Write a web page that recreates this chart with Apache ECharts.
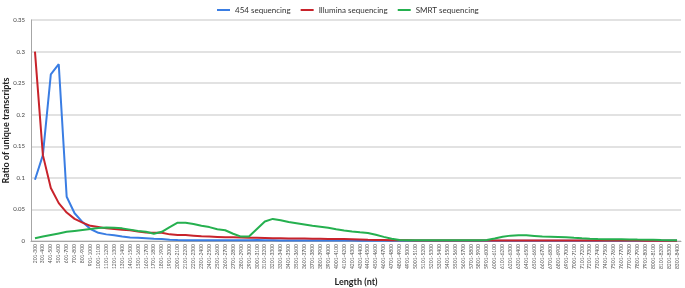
<!DOCTYPE html>
<html>
<head>
    <meta charset="utf-8">
    <title>ECharts</title>
    <script src="https://cdn.jsdelivr.net/npm/echarts@6/dist/echarts.min.js"></script>
    <style>
        html, body { margin: 0; padding: 0; background: #fff; }
    </style>
</head>
<body>
    <div id="main" style="width: 685px;height:288px;"></div>
    <script type="text/javascript">
        // length bins (x axis)
        var lengths = [
            '201-300','301-400','401-500','501-600','601-700','701-800','801-900','901-1000',
            '1001-1100','1101-1200','1201-1300','1301-1400','1401-1500','1501-1600','1601-1700','1701-1800','1801-1900','1901-2000',
            '2001-2100','2101-2200','2201-2300','2301-2400','2401-2500','2501-2600','2601-2700','2701-2800','2801-2900','2901-3000',
            '3001-3100','3101-3200','3201-3300','3301-3400','3401-3500','3501-3600','3601-3700','3701-3800','3801-3900','3901-4000',
            '4001-4100','4101-4200','4201-4300','4301-4400','4401-4500','4501-4600','4601-4700','4701-4800','4801-4900','4901-5000',
            '5001-5100','5101-5200','5201-5300','5301-5400','5401-5500','5501-5600','5601-5700','5701-5800','5801-5900','5901-6000',
            '6001-6100','6101-6200','6201-6300','6301-6400','6401-6500','6501-6600','6601-6700','6701-6800','6801-6900','6901-7000',
            '7001-7100','7101-7200','7201-7300','7301-7400','7401-7500','7501-7600','7601-7700','7701-7800','7801-7900','7901-8000',
            '8001-8100','8101-8200','8201-8300','8301-8400'
        ];

        var seq454 = [
            0.097,0.136,0.264,0.280,0.070,0.044,0.030,0.019,0.013,0.0105,
            0.009,0.007,0.0055,0.005,0.0043,0.0035,0.003,0.002,0.0015,0.0013,
            0.0012,0.0012,0.001,0.001,0.001,0.001,0.001,0.0012,0.0015,0.0012,
            0.001,0.0008,0.0008,0.0008,0.0008,0.0007,0.0007,0.0007,0.0006,0.0006,
            0.0006,0.0005,0.0005,0.0005,0.0005,0.0005,0.0004,0.0004,0.0004,0.0004,
            0.0004,0.0004,0.0004,0.0004,0.0004,0.0004,0.0004,0.0004,0.0004,0.0004,
            0.0004,0.0004,0.0004,0.0004,0.0004,0.0004,0.0003,0.0003,0.0003,0.0003,
            0.0003,0.0003,0.0003,0.0003,0.0003,0.0003,0.0003,0.0003,0.0003,0.0003,
            0.0003,0.0003
        ];

        var illumina = [
            0.300,0.136,0.084,0.060,0.045,0.035,0.029,0.024,0.022,0.020,
            0.019,0.018,0.017,0.015,0.0135,0.013,0.013,0.0105,0.0095,0.0095,
            0.0085,0.0075,0.007,0.0065,0.006,0.006,0.0055,0.005,0.005,0.0048,
            0.0045,0.0045,0.004,0.004,0.004,0.0035,0.0035,0.003,0.003,0.003,
            0.0028,0.0025,0.002,0.0017,0.0015,0.0013,0.001,0.001,0.0009,0.0008,
            0.0008,0.0008,0.0007,0.0007,0.0007,0.0007,0.0007,0.0007,0.0008,0.0008,
            0.0009,0.0009,0.0009,0.0009,0.0008,0.0008,0.0008,0.0007,0.0007,0.0007,
            0.0006,0.0006,0.0006,0.0006,0.0006,0.0006,0.0006,0.0005,0.0005,0.0005,
            0.0005,0.0005
        ];

        var smrt = [
            0.0045,0.007,0.0095,0.012,0.0145,0.016,0.0175,0.019,0.0205,0.0215,
            0.021,0.020,0.018,0.016,0.0145,0.0115,0.0145,0.022,0.029,0.029,
            0.027,0.024,0.022,0.0185,0.017,0.0115,0.007,0.007,0.019,0.031,
            0.035,0.033,0.030,0.028,0.026,0.024,0.0225,0.021,0.0185,0.0165,
            0.015,0.0137,0.0127,0.010,0.0065,0.0035,0.0015,0.0012,0.001,0.001,
            0.001,0.001,0.001,0.001,0.001,0.001,0.001,0.0016,0.004,0.0068,
            0.0085,0.009,0.009,0.008,0.007,0.0068,0.0065,0.006,0.005,0.0042,
            0.0035,0.003,0.0027,0.0027,0.0027,0.0025,0.0022,0.002,0.002,0.0016,
            0.0013,0.001
        ];

        var yTicks = [0, 0.05, 0.1, 0.15, 0.2, 0.25, 0.3, 0.35];

        var myChart = echarts.init(document.getElementById('main'));

        var font = 'Lato, "Open Sans", sans-serif';

        myChart.setOption({
            animation: false,
            textStyle: { fontFamily: font },
            color: ['#3a7de3', '#c8232b', '#25b04f'],
            legend: {
                top: 1,
                left: 212,
                itemWidth: 13,
                itemHeight: 2,
                itemGap: 10,
                icon: 'rect',
                textStyle: { fontSize: 8, color: '#333', fontFamily: font },
                data: ['454 sequencing', 'Illumina sequencing', 'SMRT sequencing']
            },
            grid: { left: 31, right: 4, top: 20, bottom: 47, outerBoundsMode: 'none' },
            xAxis: {
                type: 'category',
                data: lengths,
                boundaryGap: true,
                name: 'Length (nt)',
                nameLocation: 'middle',
                nameGap: 37,
                nameMoveOverlap: false,
                nameTextStyle: { fontSize: 9, fontWeight: 'bold', color: '#222' },
                axisLine: { lineStyle: { color: '#a6a6a6' } },
                axisTick: { interval: 0, length: 3, lineStyle: { color: '#a6a6a6' } },
                axisLabel: { interval: 0, rotate: 90, fontSize: 5, color: '#555', margin: 3 }
            },
            yAxis: {
                type: 'value',
                min: yTicks[0],
                max: yTicks[yTicks.length - 1],
                interval: 0.05,
                name: 'Ratio of unique transcripts',
                nameLocation: 'middle',
                nameGap: 20,
                nameMoveOverlap: false,
                nameTextStyle: { fontSize: 9, fontWeight: 'bold', color: '#222' },
                axisLine: { show: true, lineStyle: { color: '#a6a6a6' } },
                axisTick: { show: false },
                axisLabel: { fontSize: 6, color: '#444', margin: 6 },
                splitLine: { lineStyle: { color: '#d9d9d9', width: 1.5 } }
            },
            series: [{
                name: '454 sequencing',
                type: 'line',
                symbol: 'none',
                lineStyle: { width: 2 },
                data: seq454
            }, {
                name: 'Illumina sequencing',
                type: 'line',
                symbol: 'none',
                lineStyle: { width: 2 },
                data: illumina
            }, {
                name: 'SMRT sequencing',
                type: 'line',
                symbol: 'none',
                lineStyle: { width: 2 },
                data: smrt
            }]
        });
    </script>
</body>
</html>
